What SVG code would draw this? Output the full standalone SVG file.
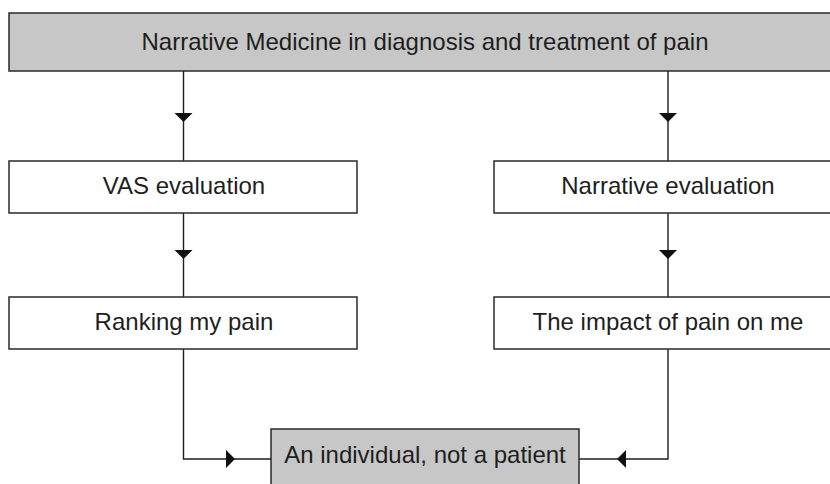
<svg xmlns="http://www.w3.org/2000/svg" xmlns:xlink="http://www.w3.org/1999/xlink" width="830" height="484" viewBox="0 0 830 484">
  <style>
    .box { stroke: #2a2a2a; stroke-width: 1.5; }
    .grey { fill: #c6c7c6; }
    .white { fill: #ffffff; }
    .lbl { font-family: "Liberation Sans", Arial, sans-serif; font-size: 24px; fill: #1e1e1e; text-anchor: middle; }
    .conn { fill: none; stroke: #1e1e1e; stroke-width: 1.4; }
    .head { fill: #111111; stroke: none; }
  </style>
  <defs>
    <path id="ah" d="M-9,-9 L9,-9 L0,0 Z"/>
  </defs>
  <rect x="0" y="0" width="830" height="484" fill="#ffffff"/>

  <g id="connectors">
    <path class="conn" d="M183.5,71 V161"/>
    <path class="conn" d="M668,71 V161"/>
    <path class="conn" d="M183.5,213 V297"/>
    <path class="conn" d="M668,213 V297"/>
    <path class="conn" d="M183.5,349 V459 H271"/>
    <path class="conn" d="M668,349 V459 H579"/>
    <use class="head" xlink:href="#ah" transform="translate(183.5,122)"/>
    <use class="head" xlink:href="#ah" transform="translate(668,122)"/>
    <use class="head" xlink:href="#ah" transform="translate(183.5,259)"/>
    <use class="head" xlink:href="#ah" transform="translate(668,259)"/>
    <use class="head" xlink:href="#ah" transform="translate(235,459) rotate(-90)"/>
    <use class="head" xlink:href="#ah" transform="translate(617,459) rotate(90)"/>
  </g>

  <g id="node-top">
    <rect class="box grey" x="9" y="13" width="834" height="58"/>
    <text class="lbl" x="425" y="50">Narrative Medicine in diagnosis and treatment of pain</text>
  </g>
  <g id="node-vas">
    <rect class="box white" x="9" y="161" width="348" height="52"/>
    <text class="lbl" x="184" y="194">VAS evaluation</text>
  </g>
  <g id="node-narrative">
    <rect class="box white" x="494" y="161" width="348" height="52"/>
    <text class="lbl" x="668" y="194">Narrative evaluation</text>
  </g>
  <g id="node-ranking">
    <rect class="box white" x="9" y="297" width="348" height="52"/>
    <text class="lbl" x="184" y="330">Ranking my pain</text>
  </g>
  <g id="node-impact">
    <rect class="box white" x="494" y="297" width="348" height="52"/>
    <text class="lbl" x="668" y="330">The impact of pain on me</text>
  </g>
  <g id="node-individual">
    <rect class="box grey" x="271" y="429" width="308" height="62"/>
    <text class="lbl" x="425" y="463">An individual, not a patient</text>
  </g>
</svg>
